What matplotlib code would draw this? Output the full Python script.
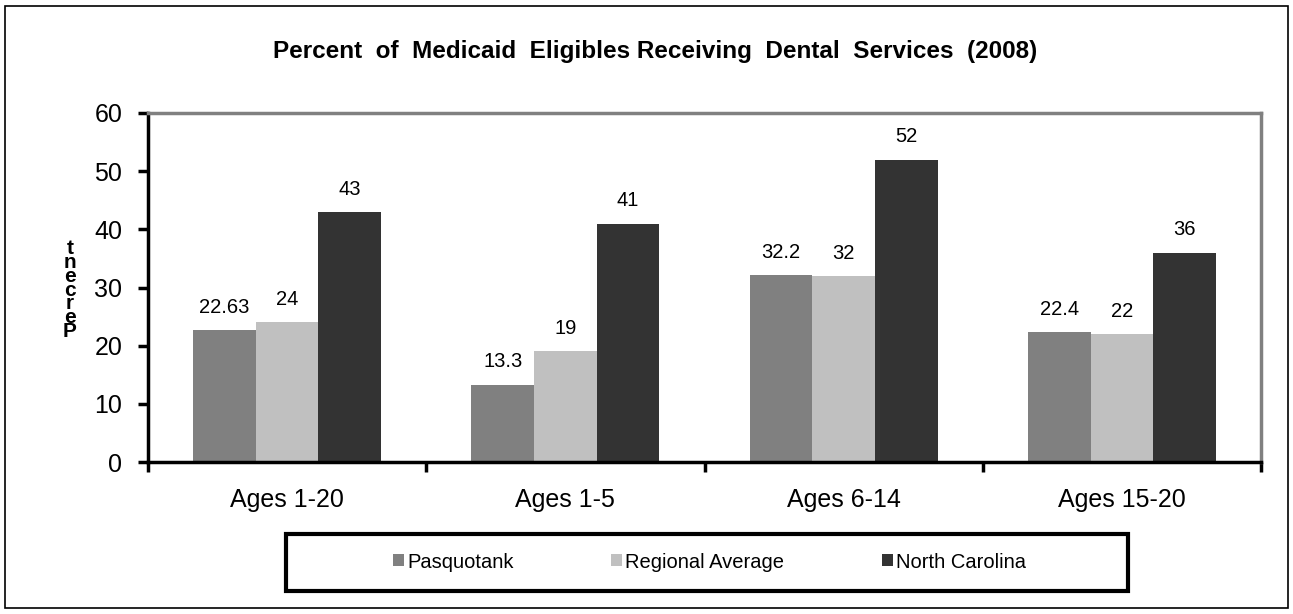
import numpy as np
import matplotlib.pyplot as plt
from matplotlib.patches import Rectangle

plt.rcParams['font.family'] = ['Liberation Sans', 'DejaVu Sans']

# data
categories = ['Ages 1-20', 'Ages 1-5', 'Ages 6-14', 'Ages 15-20']
series = ['Pasquotank', 'Regional Average', 'North Carolina']
pasquotank = [22.63, 13.3, 32.2, 22.4]
regional = [24, 19, 32, 22]
north_carolina = [43, 41, 52, 36]
colors = ['#808080', '#c0c0c0', '#333333']

W, H = 1293, 614
fig = plt.figure(figsize=(W / 100, H / 100), dpi=100)
ax = fig.add_axes([148/W, 1 - 462/H, 1113/W, 349/H])

x = np.arange(len(categories))
w = 0.225
for i, (vals, c, name) in enumerate(zip([pasquotank, regional, north_carolina], colors, series)):
    bars = ax.bar(x + (i - 1) * w, vals, w, color=c, label=name)
    for b, v in zip(bars, vals):
        ax.annotate(f'{v:g}', (b.get_x() + b.get_width() / 2, v),
                    xytext=(0, 9.5), textcoords='offset points',
                    ha='center', va='bottom', fontsize=14.5)

ax.set_xlim(-0.5, 3.5)
ax.set_ylim(0, 60)
ax.set_yticks(range(0, 61, 10))
ax.tick_params(axis='y', labelsize=18, width=2.5, length=7.5, pad=11)

# tick marks at category boundaries, labels at centres
ax.set_xticks(np.arange(-0.5, 4, 1))
ax.set_xticklabels([])
ax.set_xticks(x, minor=True)
ax.set_xticklabels(categories, minor=True, fontsize=18)
ax.tick_params(axis='x', which='major', width=2.5, length=7)
ax.tick_params(axis='x', which='minor', length=0, pad=19)

for s in ['left', 'bottom']:
    ax.spines[s].set_linewidth(2.5)
    ax.spines[s].set_color('black')
for s in ['top', 'right']:
    ax.spines[s].set_linewidth(2.5)
    ax.spines[s].set_color('#808080')

# y label drawn as stacked letters, like the original
fig.text(70/W, 1 - 290/H, 't\nn\ne\nc\nr\ne\nP', ha='center', va='center',
         fontsize=15, fontweight='bold', linespacing=0.66)

fig.text(655/W, 1 - 58/H,
         'Percent  of  Medicaid  Eligibles Receiving  Dental  Services  (2008)',
         ha='center', va='baseline', fontsize=17.5, fontweight='bold')

# legend box
fig.patches.append(Rectangle((286/W, 1 - 591/H), 842/W, 57/H,
                             transform=fig.transFigure, fill=False,
                             edgecolor='black', linewidth=3))
fig.legend(loc='center left', bbox_to_anchor=(393/W, 1 - 562/H), ncol=3,
           frameon=False, fontsize=14.5, handlelength=0.55, handleheight=0.55,
           handletextpad=0.15, columnspacing=4.85, borderpad=0, borderaxespad=0)

# outer border
fig.patches.append(Rectangle((5/W, 6/H), 1283/W, 602/H,
                             transform=fig.transFigure, fill=False,
                             edgecolor='black', linewidth=1.2))

fig.savefig('out.png', dpi=100)
